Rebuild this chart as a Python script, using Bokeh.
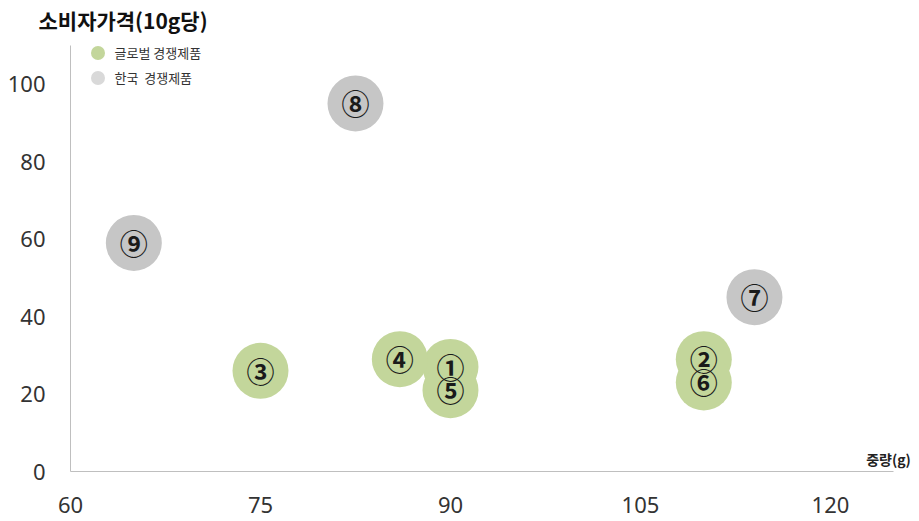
from bokeh.plotting import figure
from bokeh.models import ColumnDataSource, FixedTicker, Label, Legend, LegendItem, Range1d, Title
from bokeh.core.properties import value
from bokeh.embed import file_html
from bokeh.resources import INLINE

# ---- data ----
labels = ["①", "②", "③", "④", "⑤", "⑥", "⑦", "⑧", "⑨"]
weight_g = [90, 110, 75, 86, 90, 110, 114, 82.5, 65]
price_10g = [27, 29, 26, 29, 21, 23, 45, 95, 59]
group = ["글로벌", "글로벌", "글로벌", "글로벌", "글로벌", "글로벌", "한국", "한국", "한국"]
legend_labels = ["글로벌 경쟁제품", "한국  경쟁제품"]
x_ticks = [60, 75, 90, 105, 120]
y_ticks = [0, 20, 40, 60, 80, 100]
title_text = "소비자가격(10g당)"
x_title = "중량(g)"

GREEN = "#C3D69B"
GREY = "#C6C6C6"
LEGEND_GREY = "#D9D9D9"
colors = [GREEN if g == "글로벌" else GREY for g in group]

src = ColumnDataSource(dict(x=weight_g, y=price_10g, lab=labels, c=colors))

p = figure(width=919, height=521, output_backend="svg", toolbar_location=None,
           x_range=Range1d(60, 127.03), y_range=Range1d(0, 112.8),
           min_border_left=70, min_border_right=0, min_border_top=34, min_border_bottom=50)
p.outline_line_color = None
p.grid.visible = False
p.background_fill_color = "white"
p.border_fill_color = "white"

p.add_layout(Title(text=title_text, align="left", offset=-32, standoff=0,
                   text_font="Noto Sans CJK KR", text_line_height=1.0,
                   text_font_size="21px", text_font_style="bold", text_color="#111111"),
             "above")

bubbles = p.scatter("x", "y", source=src, size=56, fill_color="c", line_color=None)
p.text("x", "y", text="lab", source=src, text_align="center", text_baseline="middle",
       text_font=value("Noto Sans CJK KR"), text_font_size="28px", text_font_style="bold",
       text_color="#1a1a1a")
# hidden twin of the bubbles, only lends the lighter legend swatch colour
legend_twin = p.scatter("x", "y", source=src, size=56, fill_color=LEGEND_GREY,
                        line_color=None, visible=False)

first_global = group.index("글로벌")
first_korea = group.index("한국")

common = dict(orientation="vertical", glyph_width=35, glyph_height=35, spacing=0,
              padding=0, margin=0, label_standoff=0, label_height=35,
              label_text_font="Noto Sans CJK KR", label_text_font_size="13px",
              label_text_color="#333333", background_fill_alpha=0, border_line_color=None)
leg1 = Legend(items=[LegendItem(label=legend_labels[0], renderers=[bubbles], index=first_global)],
              location=(9.5, 401.5), **common)
leg2 = Legend(items=[LegendItem(label=legend_labels[1], renderers=[legend_twin], index=first_korea)],
              location=(9.5, 376.5), **common)
p.add_layout(leg1)
p.add_layout(leg2)

for ax, ticks in ((p.xaxis, x_ticks), (p.yaxis, y_ticks)):
    ax.ticker = FixedTicker(ticks=ticks)
    ax.major_tick_line_color = None
    ax.minor_tick_line_color = None
    ax.axis_line_color = "#BFBFBF"
    ax.major_label_text_font = "Noto Sans"
    ax.major_label_text_font_size = "22px"
    ax.major_label_text_color = "#333333"
p.xaxis.bounds = (60, 125)
p.yaxis.bounds = (0, 110)
p.yaxis.major_label_standoff = 19
p.xaxis.major_label_standoff = 19

p.add_layout(Label(x=818, y=13, x_units="screen", y_units="screen", text=x_title,
                   text_font="Noto Sans CJK KR", text_font_size="14px", text_font_style="bold",
                   text_color="#222222", text_align="center", text_baseline="middle"))

open("out.html", "w").write(file_html(p, INLINE))
